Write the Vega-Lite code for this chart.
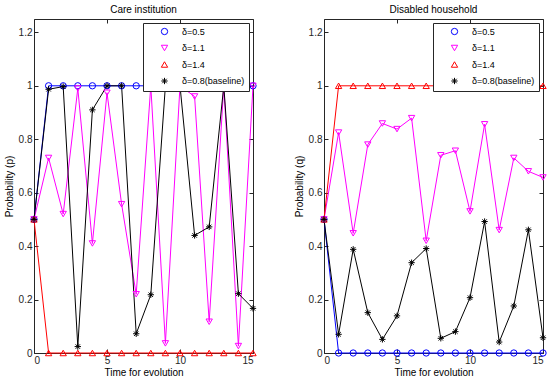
{
  "$schema": "https://vega.github.io/schema/vega-lite/v6.json",
  "padding": {"left": 3, "top": 4, "right": 8, "bottom": 2},
  "background": "white",
  "datasets": {
    "p": [
      {"s": "δ=0.5", "t": 0, "v": 0.5}, {"s": "δ=0.5", "t": 1, "v": 1}, {"s": "δ=0.5", "t": 2, "v": 1}, {"s": "δ=0.5", "t": 3, "v": 1}, {"s": "δ=0.5", "t": 4, "v": 1}, {"s": "δ=0.5", "t": 5, "v": 1}, {"s": "δ=0.5", "t": 6, "v": 1}, {"s": "δ=0.5", "t": 7, "v": 1}, {"s": "δ=0.5", "t": 8, "v": 1}, {"s": "δ=0.5", "t": 9, "v": 1}, {"s": "δ=0.5", "t": 10, "v": 1}, {"s": "δ=0.5", "t": 11, "v": 1}, {"s": "δ=0.5", "t": 12, "v": 1}, {"s": "δ=0.5", "t": 13, "v": 1}, {"s": "δ=0.5", "t": 14, "v": 1}, {"s": "δ=0.5", "t": 15, "v": 1},
      {"s": "δ=1.1", "t": 0, "v": 0.5}, {"s": "δ=1.1", "t": 1, "v": 0.73}, {"s": "δ=1.1", "t": 2, "v": 0.52}, {"s": "δ=1.1", "t": 3, "v": 0.99}, {"s": "δ=1.1", "t": 4, "v": 0.41}, {"s": "δ=1.1", "t": 5, "v": 0.974}, {"s": "δ=1.1", "t": 6, "v": 0.557}, {"s": "δ=1.1", "t": 7, "v": 0.22}, {"s": "δ=1.1", "t": 8, "v": 1.0}, {"s": "δ=1.1", "t": 9, "v": 0.036}, {"s": "δ=1.1", "t": 10, "v": 1.0}, {"s": "δ=1.1", "t": 11, "v": 0.96}, {"s": "δ=1.1", "t": 12, "v": 0.117}, {"s": "δ=1.1", "t": 13, "v": 1.0}, {"s": "δ=1.1", "t": 14, "v": 0.026}, {"s": "δ=1.1", "t": 15, "v": 1.0},
      {"s": "δ=1.4", "t": 0, "v": 0.5}, {"s": "δ=1.4", "t": 1, "v": 0}, {"s": "δ=1.4", "t": 2, "v": 0}, {"s": "δ=1.4", "t": 3, "v": 0}, {"s": "δ=1.4", "t": 4, "v": 0}, {"s": "δ=1.4", "t": 5, "v": 0}, {"s": "δ=1.4", "t": 6, "v": 0}, {"s": "δ=1.4", "t": 7, "v": 0}, {"s": "δ=1.4", "t": 8, "v": 0}, {"s": "δ=1.4", "t": 9, "v": 0}, {"s": "δ=1.4", "t": 10, "v": 0}, {"s": "δ=1.4", "t": 11, "v": 0}, {"s": "δ=1.4", "t": 12, "v": 0}, {"s": "δ=1.4", "t": 13, "v": 0}, {"s": "δ=1.4", "t": 14, "v": 0}, {"s": "δ=1.4", "t": 15, "v": 0},
      {"s": "δ=0.8(baseline)", "t": 0, "v": 0.5}, {"s": "δ=0.8(baseline)", "t": 1, "v": 0.987}, {"s": "δ=0.8(baseline)", "t": 2, "v": 0.997}, {"s": "δ=0.8(baseline)", "t": 3, "v": 0.024}, {"s": "δ=0.8(baseline)", "t": 4, "v": 0.91}, {"s": "δ=0.8(baseline)", "t": 5, "v": 1.0}, {"s": "δ=0.8(baseline)", "t": 6, "v": 1.0}, {"s": "δ=0.8(baseline)", "t": 7, "v": 0.072}, {"s": "δ=0.8(baseline)", "t": 8, "v": 0.218}, {"s": "δ=0.8(baseline)", "t": 9, "v": 1.0}, {"s": "δ=0.8(baseline)", "t": 10, "v": 1.0}, {"s": "δ=0.8(baseline)", "t": 11, "v": 0.44}, {"s": "δ=0.8(baseline)", "t": 12, "v": 0.472}, {"s": "δ=0.8(baseline)", "t": 13, "v": 1.0}, {"s": "δ=0.8(baseline)", "t": 14, "v": 0.222}, {"s": "δ=0.8(baseline)", "t": 15, "v": 0.167}
    ],
    "q": [
      {"s": "δ=0.5", "t": 0, "v": 0.5}, {"s": "δ=0.5", "t": 1, "v": 0}, {"s": "δ=0.5", "t": 2, "v": 0}, {"s": "δ=0.5", "t": 3, "v": 0}, {"s": "δ=0.5", "t": 4, "v": 0}, {"s": "δ=0.5", "t": 5, "v": 0}, {"s": "δ=0.5", "t": 6, "v": 0}, {"s": "δ=0.5", "t": 7, "v": 0}, {"s": "δ=0.5", "t": 8, "v": 0}, {"s": "δ=0.5", "t": 9, "v": 0}, {"s": "δ=0.5", "t": 10, "v": 0}, {"s": "δ=0.5", "t": 11, "v": 0}, {"s": "δ=0.5", "t": 12, "v": 0}, {"s": "δ=0.5", "t": 13, "v": 0}, {"s": "δ=0.5", "t": 14, "v": 0}, {"s": "δ=0.5", "t": 15, "v": 0},
      {"s": "δ=1.1", "t": 0, "v": 0.5}, {"s": "δ=1.1", "t": 1, "v": 0.825}, {"s": "δ=1.1", "t": 2, "v": 0.448}, {"s": "δ=1.1", "t": 3, "v": 0.78}, {"s": "δ=1.1", "t": 4, "v": 0.859}, {"s": "δ=1.1", "t": 5, "v": 0.838}, {"s": "δ=1.1", "t": 6, "v": 0.879}, {"s": "δ=1.1", "t": 7, "v": 0.42}, {"s": "δ=1.1", "t": 8, "v": 0.74}, {"s": "δ=1.1", "t": 9, "v": 0.757}, {"s": "δ=1.1", "t": 10, "v": 0.53}, {"s": "δ=1.1", "t": 11, "v": 0.856}, {"s": "δ=1.1", "t": 12, "v": 0.46}, {"s": "δ=1.1", "t": 13, "v": 0.73}, {"s": "δ=1.1", "t": 14, "v": 0.68}, {"s": "δ=1.1", "t": 15, "v": 0.657},
      {"s": "δ=1.4", "t": 0, "v": 0.5}, {"s": "δ=1.4", "t": 1, "v": 1}, {"s": "δ=1.4", "t": 2, "v": 1}, {"s": "δ=1.4", "t": 3, "v": 1}, {"s": "δ=1.4", "t": 4, "v": 1}, {"s": "δ=1.4", "t": 5, "v": 1}, {"s": "δ=1.4", "t": 6, "v": 1}, {"s": "δ=1.4", "t": 7, "v": 1}, {"s": "δ=1.4", "t": 8, "v": 1}, {"s": "δ=1.4", "t": 9, "v": 1}, {"s": "δ=1.4", "t": 10, "v": 1}, {"s": "δ=1.4", "t": 11, "v": 1}, {"s": "δ=1.4", "t": 12, "v": 1}, {"s": "δ=1.4", "t": 13, "v": 1}, {"s": "δ=1.4", "t": 14, "v": 1}, {"s": "δ=1.4", "t": 15, "v": 1},
      {"s": "δ=0.8(baseline)", "t": 0, "v": 0.5}, {"s": "δ=0.8(baseline)", "t": 1, "v": 0.07}, {"s": "δ=0.8(baseline)", "t": 2, "v": 0.388}, {"s": "δ=0.8(baseline)", "t": 3, "v": 0.151}, {"s": "δ=0.8(baseline)", "t": 4, "v": 0.051}, {"s": "δ=0.8(baseline)", "t": 5, "v": 0.139}, {"s": "δ=0.8(baseline)", "t": 6, "v": 0.338}, {"s": "δ=0.8(baseline)", "t": 7, "v": 0.391}, {"s": "δ=0.8(baseline)", "t": 8, "v": 0.055}, {"s": "δ=0.8(baseline)", "t": 9, "v": 0.08}, {"s": "δ=0.8(baseline)", "t": 10, "v": 0.207}, {"s": "δ=0.8(baseline)", "t": 11, "v": 0.492}, {"s": "δ=0.8(baseline)", "t": 12, "v": 0.041}, {"s": "δ=0.8(baseline)", "t": 13, "v": 0.176}, {"s": "δ=0.8(baseline)", "t": 14, "v": 0.461}, {"s": "δ=0.8(baseline)", "t": 15, "v": 0.057}
    ]
  },
  "hconcat": [
    {
      "width": 219, "height": 334,
      "title": {"text": "Care institution"},
      "data": {"name": "p"},
      "layer": [
        {
          "mark": {"type": "line", "strokeWidth": 1},
          "encoding": {
            "x": {"field": "t", "type": "quantitative", "scale": {"domain": [0, 15], "nice": false}, "axis": {"orient": "top", "labels": false, "title": null, "values": [0, 5, 10, 15]}},
            "y": {"field": "v", "type": "quantitative", "scale": {"domain": [0, 1.25], "nice": false}, "axis": {"orient": "right", "labels": false, "title": null, "values": [0, 0.2, 0.4, 0.6, 0.8, 1, 1.2]}},
            "color": {"field": "s", "type": "nominal", "scale": {"domain": ["δ=0.5", "δ=1.1", "δ=1.4", "δ=0.8(baseline)"], "range": ["#0000ff", "#ff00ff", "#ff0000", "#000000"]}, "legend": {"title": null, "strokeColor": "#262626", "fillColor": "white"}}
          }
        },
        {
          "mark": {"type": "point", "filled": false, "strokeWidth": 1, "size": 40, "opacity": 1},
          "encoding": {
            "x": {"field": "t", "type": "quantitative", "scale": {"domain": [0, 15], "nice": false}, "axis": {"orient": "bottom", "title": "Time for evolution", "values": [0, 5, 10, 15]}},
            "y": {"field": "v", "type": "quantitative", "scale": {"domain": [0, 1.25], "nice": false}, "axis": {"orient": "left", "title": "Probability (p)", "values": [0, 0.2, 0.4, 0.6, 0.8, 1, 1.2], "format": "~g"}},
            "color": {"field": "s", "type": "nominal", "scale": {"domain": ["δ=0.5", "δ=1.1", "δ=1.4", "δ=0.8(baseline)"], "range": ["#0000ff", "#ff00ff", "#ff0000", "#000000"]}, "legend": {"title": null, "strokeColor": "#262626", "fillColor": "white"}},
            "shape": {"field": "s", "type": "nominal", "scale": {"domain": ["δ=0.5", "δ=1.1", "δ=1.4", "δ=0.8(baseline)"], "range": ["circle", "triangle-down", "triangle-up", "M-1,0L1,0M0,-1L0,1M-0.7,-0.7L0.7,0.7M-0.7,0.7L0.7,-0.7"]}, "legend": {"title": null, "strokeColor": "#262626", "fillColor": "white"}}
          }
        }
      ],
      "resolve": {"axis": {"x": "independent", "y": "independent"}}
    },
    {
      "width": 219, "height": 334,
      "title": {"text": "Disabled household"},
      "data": {"name": "q"},
      "layer": [
        {
          "mark": {"type": "line", "strokeWidth": 1},
          "encoding": {
            "x": {"field": "t", "type": "quantitative", "scale": {"domain": [0, 15], "nice": false}, "axis": {"orient": "top", "labels": false, "title": null, "values": [0, 5, 10, 15]}},
            "y": {"field": "v", "type": "quantitative", "scale": {"domain": [0, 1.25], "nice": false}, "axis": {"orient": "right", "labels": false, "title": null, "values": [0, 0.2, 0.4, 0.6, 0.8, 1, 1.2]}},
            "color": {"field": "s", "type": "nominal", "scale": {"domain": ["δ=0.5", "δ=1.1", "δ=1.4", "δ=0.8(baseline)"], "range": ["#0000ff", "#ff00ff", "#ff0000", "#000000"]}, "legend": {"title": null, "strokeColor": "#262626", "fillColor": "white"}}
          }
        },
        {
          "mark": {"type": "point", "filled": false, "strokeWidth": 1, "size": 40, "opacity": 1},
          "encoding": {
            "x": {"field": "t", "type": "quantitative", "scale": {"domain": [0, 15], "nice": false}, "axis": {"orient": "bottom", "title": "Time for evolution", "values": [0, 5, 10, 15]}},
            "y": {"field": "v", "type": "quantitative", "scale": {"domain": [0, 1.25], "nice": false}, "axis": {"orient": "left", "title": "Probability (q)", "values": [0, 0.2, 0.4, 0.6, 0.8, 1, 1.2], "format": "~g"}},
            "color": {"field": "s", "type": "nominal", "scale": {"domain": ["δ=0.5", "δ=1.1", "δ=1.4", "δ=0.8(baseline)"], "range": ["#0000ff", "#ff00ff", "#ff0000", "#000000"]}, "legend": {"title": null, "strokeColor": "#262626", "fillColor": "white"}},
            "shape": {"field": "s", "type": "nominal", "scale": {"domain": ["δ=0.5", "δ=1.1", "δ=1.4", "δ=0.8(baseline)"], "range": ["circle", "triangle-down", "triangle-up", "M-1,0L1,0M0,-1L0,1M-0.7,-0.7L0.7,0.7M-0.7,0.7L0.7,-0.7"]}, "legend": {"title": null, "strokeColor": "#262626", "fillColor": "white"}}
          }
        }
      ],
      "resolve": {"axis": {"x": "independent", "y": "independent"}}
    }
  ],
  "spacing": 34,
  "resolve": {"scale": {"color": "independent", "shape": "independent"}, "legend": {"color": "independent", "shape": "independent"}},
  "config": {
    "font": "Liberation Sans",
    "view": {"stroke": "#262626", "strokeWidth": 1},
    "title": {"fontSize": 10, "fontWeight": "normal", "color": "#000000", "offset": 4, "font": "Liberation Sans"},
    "axis": {
      "domain": false, "grid": false, "tickSize": -4, "tickColor": "#262626", "tickWidth": 1,
      "labelFont": "Liberation Sans", "labelFontSize": 10, "labelColor": "#262626", "labelPadding": 6,
      "titleFont": "Liberation Sans", "titleFontSize": 10, "titleFontWeight": "normal", "titleColor": "#000000"
    },
    "axisLeft": {"titlePadding": 4},
    "axisBottom": {"titlePadding": 2},
    "legend": {
      "orient": "top-right", "offset": 4, "strokeColor": "#262626", "strokeWidth": 1, "fillColor": "white", "padding": 4,
      "labelFont": "Liberation Sans", "labelFontSize": 9, "labelColor": "#000000", "rowPadding": 5.5, "symbolSize": 40, "symbolStrokeWidth": 1, "symbolOffset": 13, "labelOffset": 13
    }
  }
}
